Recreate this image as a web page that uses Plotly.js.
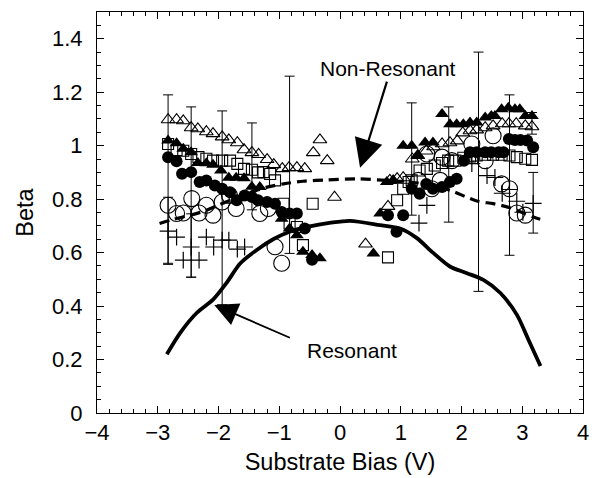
<!DOCTYPE html>
<html><head><meta charset="utf-8">
<script src="https://cdn.plot.ly/plotly-3.0.1.min.js"></script>
<style>html,body{margin:0;padding:0;background:#fff}#chart{width:610px;height:478px}</style>
</head><body><div id="chart"></div>
<script>
// ---- data ----
const openTriX = [-2.83,-2.69,-2.58,-2.45,-2.34,-2.20,-2.09,-1.94,-1.83,-1.69,-1.58,-1.45,-1.34,-1.20,-1.09,-0.95,-0.84,-0.71,-0.58,-0.44,-0.33,-0.21,-0.09,0.42,0.79,0.82,0.94,1.04,1.19,1.28,1.42,1.54,1.68,1.81,1.93,2.02,2.14,2.25,2.39,2.52,2.67,2.78,2.90,3.05,3.16];
const openTriY = [1.097,1.097,1.093,1.067,1.063,1.052,1.045,1.033,1.022,1.011,0.985,0.974,0.967,0.948,0.929,0.914,0.918,0.918,0.914,0.974,1.022,0.944,0.807,0.632,0.773,0.87,0.877,0.88,0.95,0.963,0.98,0.996,1.007,1.011,1.018,1.048,1.056,1.059,1.067,1.074,1.082,1.082,1.082,1.074,1.071];

const filledTriX = [-2.83,-2.69,-2.58,-2.45,-2.34,-2.20,-2.09,-1.96,-1.83,-1.71,-1.58,-1.45,-1.32,-0.96,-0.83,-0.71,-0.61,-0.46,-0.33,0.55,0.66,0.77,0.875,1.04,1.18,1.28,1.40,1.53,1.68,1.81,1.92,2.03,2.14,2.25,2.39,2.49,2.55,2.66,2.77,2.88,2.96,3.05,3.16];
const filledTriY = [1.019,1.009,0.988,0.975,0.935,0.934,0.929,0.907,0.88,0.88,0.878,0.846,0.845,0.727,0.69,0.665,0.603,0.591,0.579,0.597,0.746,0.864,0.872,1.0,1.0,0.963,1.012,1.012,1.118,1.08,1.08,1.08,1.087,1.087,1.105,1.111,1.111,1.136,1.142,1.136,1.136,1.111,1.111];

const filledCircX = [-2.83,-2.69,-2.60,-2.45,-2.31,-2.20,-2.06,-1.94,-1.81,-1.70,-1.57,-1.45,-1.35,-1.20,-1.07,-0.96,-0.83,-0.71,-0.58,-0.46,0.79,0.93,1.04,1.18,1.31,1.42,1.53,1.68,1.81,1.92,2.04,2.14,2.25,2.39,2.49,2.61,2.69,2.78,2.88,2.97,3.08,3.18];
const filledCircY = [0.957,0.942,0.895,0.901,0.864,0.87,0.851,0.839,0.826,0.796,0.814,0.808,0.796,0.789,0.783,0.752,0.746,0.746,0.69,0.573,0.74,0.678,0.74,0.839,0.82,0.857,0.839,0.845,0.864,0.876,0.944,0.975,0.975,0.975,0.975,0.975,0.975,1.025,1.021,1.021,1.019,0.994];

const openSqX = [-2.83,-2.69,-2.58,-2.45,-2.33,-2.20,-2.09,-1.94,-1.81,-1.69,-1.58,-1.45,-1.35,-1.26,-1.15,-1.07,-0.93,-0.83,-0.71,-0.61,-0.45,0.79,0.94,1.04,1.13,1.18,1.31,1.43,1.56,1.68,1.78,1.90,2.03,2.14,2.25,2.39,2.52,2.66,2.79,2.91,3.05,3.16];
const openSqY = [1.006,0.984,0.981,0.969,0.957,0.951,0.944,0.944,0.944,0.932,0.913,0.91,0.90,0.901,0.894,0.87,0.783,0.709,0.696,0.628,0.783,0.582,0.796,0.839,0.864,0.87,0.907,0.913,0.926,0.935,0.944,0.944,0.955,0.96,0.963,0.966,0.966,0.966,0.963,0.957,0.951,0.947];

const openCircX = [-2.83,-2.69,-2.58,-2.44,-2.32,-2.20,-2.09,-1.94,-1.82,-1.71,-1.32,-1.18,-1.07,-0.96,1.29,1.43,1.51,1.65,1.68,1.84,2.17,2.39,2.52,2.66,2.79,2.91,3.05];
const openCircY = [0.777,0.746,0.748,0.802,0.748,0.777,0.74,0.789,0.814,0.765,0.746,0.765,0.622,0.56,0.87,0.969,0.839,0.87,0.957,0.944,1.006,0.944,1.037,0.857,0.839,0.748,0.74];

const crossX = [-2.83,-2.69,-2.58,-2.45,-2.32,-2.20,-2.08,-1.94,-1.83,-1.69,-1.57,1.30,1.43,2.17,2.42,2.55,2.67,2.79,2.91,3.01,3.18];
const crossY = [0.680,0.658,0.572,0.621,0.572,0.658,0.621,0.647,0.647,0.613,0.621,0.71,0.777,0.933,0.888,0.881,0.822,0.836,0.792,0.751,0.784];

// error bars: x, upper end, lower end
const barX  = [-2.83,-2.45,-1.94,-1.45,-0.83,1.18,1.79,2.28,2.79,-2.83,-2.45,3.18,3.16];
const barHi = [1.19,1.145,1.13,1.085,1.26,1.16,1.145,1.35,1.19,0.807,0.745,0.90,1.124];
const barLo = [0.56,0.508,0.405,0.76,0.597,0.74,0.714,0.455,0.59,0.556,0.508,0.673,1.043];

// model curves
const resX = [-2.85,-2.63,-2.36,-2.09,-1.87,-1.64,-1.37,-1.10,-0.83,-0.54,-0.15,0.165,0.655,0.99,1.26,1.53,1.81,2.09,2.36,2.64,2.91,3.10,3.30];
const resY = [0.22,0.30,0.374,0.424,0.486,0.56,0.61,0.65,0.678,0.696,0.712,0.719,0.703,0.69,0.655,0.60,0.548,0.523,0.498,0.449,0.368,0.275,0.176];
const nonResX = [-2.97,-2.75,-2.465,-2.225,-1.975,-1.536,-1.202,-0.93,-0.607,-0.221,0.269,0.77,1.125,1.47,1.814,2.252,2.524,2.795,3.181,3.296];
const nonResY = [0.709,0.724,0.74,0.756,0.78,0.82,0.845,0.857,0.867,0.872,0.876,0.87,0.864,0.855,0.833,0.793,0.783,0.768,0.733,0.725];

// ---- traces ----
const K = '#000';
const barMid = barX.map((_, i) => (barHi[i] + barLo[i]) / 2);
const barErr = barX.map((_, i) => (barHi[i] - barLo[i]) / 2);

const traces = [
  {x: barX, y: barMid, mode: 'markers', marker: {opacity: 0, size: 1},
   error_y: {type: 'data', array: barErr, visible: true, color: K, thickness: 1, width: 5}, hoverinfo: 'skip'},
  {x: resX, y: resY, mode: 'lines', line: {color: K, width: 3.8, shape: 'spline', smoothing: 0.8}},
  {x: nonResX, y: nonResY, mode: 'lines', line: {color: K, width: 3.2, dash: '10px,6px', shape: 'spline', smoothing: 0.8}},
  {x: openCircX, y: openCircY, mode: 'markers', marker: {symbol: 'circle-open', size: 16, color: K, line: {width: 1.1, color: K}}},
  {x: openSqX, y: openSqY, mode: 'markers', marker: {symbol: 'square-open', size: 11, color: K, line: {width: 1.1, color: K}}},
  {x: openTriX, y: openTriY, mode: 'markers', marker: {symbol: 'triangle-up-open', size: 12, color: K, line: {width: 1.1, color: K}}},
  {x: filledCircX, y: filledCircY, mode: 'markers', marker: {symbol: 'circle', size: 12, color: K}},
  {x: filledTriX, y: filledTriY, mode: 'markers', marker: {symbol: 'triangle-up', size: 12, color: K}},
  {x: crossX, y: crossY, mode: 'markers', marker: {symbol: 'cross-thin', size: 12, color: K, line: {width: 1.2, color: K}}}
];

const F = 'Liberation Sans, Arial, Helvetica, sans-serif';
const axisBase = {
  showline: true, linecolor: K, linewidth: 1, mirror: 'allticks',
  ticks: 'inside', ticklen: 7, tickwidth: 1, tickcolor: K,
  showgrid: false, zeroline: false,
  tickfont: {family: F, size: 22, color: K}
};

const layout = {
  width: 610, height: 478,
  margin: {l: 97, r: 27, t: 12, b: 65},
  paper_bgcolor: '#fff', plot_bgcolor: '#fff',
  showlegend: false,
  font: {family: F, color: K},
  xaxis: Object.assign({}, axisBase, {
    range: [-4, 4], dtick: 1, tick0: 0,
    minor: {dtick: 0.2, ticks: 'inside', ticklen: 4, tickcolor: K},
    title: {text: 'Substrate Bias (V)', font: {family: F, size: 23.5, color: K}, standoff: 9}
  }),
  yaxis: Object.assign({}, axisBase, {
    range: [0, 1.5], dtick: 0.2, tick0: 0, ticklabelstandoff: 9,
    minor: {dtick: 0.05, ticks: 'inside', ticklen: 4, tickcolor: K},
    title: {text: 'Beta', font: {family: F, size: 23.5, color: K}, standoff: 11}
  }),
  annotations: [
    {x: 0.79, y: 1.29, xref: 'x', yref: 'y', text: 'Non-Resonant', showarrow: false, font: {family: F, size: 21, color: K}},
    {x: 0.33, y: 0.917, xref: 'x', yref: 'y', ax: 0.78, ay: 1.245, axref: 'x', ayref: 'y', text: '', showarrow: true,
     arrowhead: 2, arrowsize: 2.6, arrowwidth: 2.2, arrowcolor: K, standoff: 0},
    {x: 0.2, y: 0.235, xref: 'x', yref: 'y', text: 'Resonant', showarrow: false, font: {family: F, size: 21, color: K}},
    {x: -2.07, y: 0.404, xref: 'x', yref: 'y', ax: -0.80, ay: 0.279, axref: 'x', ayref: 'y', text: '', showarrow: true,
     arrowhead: 2, arrowsize: 2.6, arrowwidth: 1.8, arrowcolor: K, standoff: 0}
  ]
};

Plotly.newPlot('chart', traces, layout, {staticPlot: true, displayModeBar: false});
</script>
</body></html>
